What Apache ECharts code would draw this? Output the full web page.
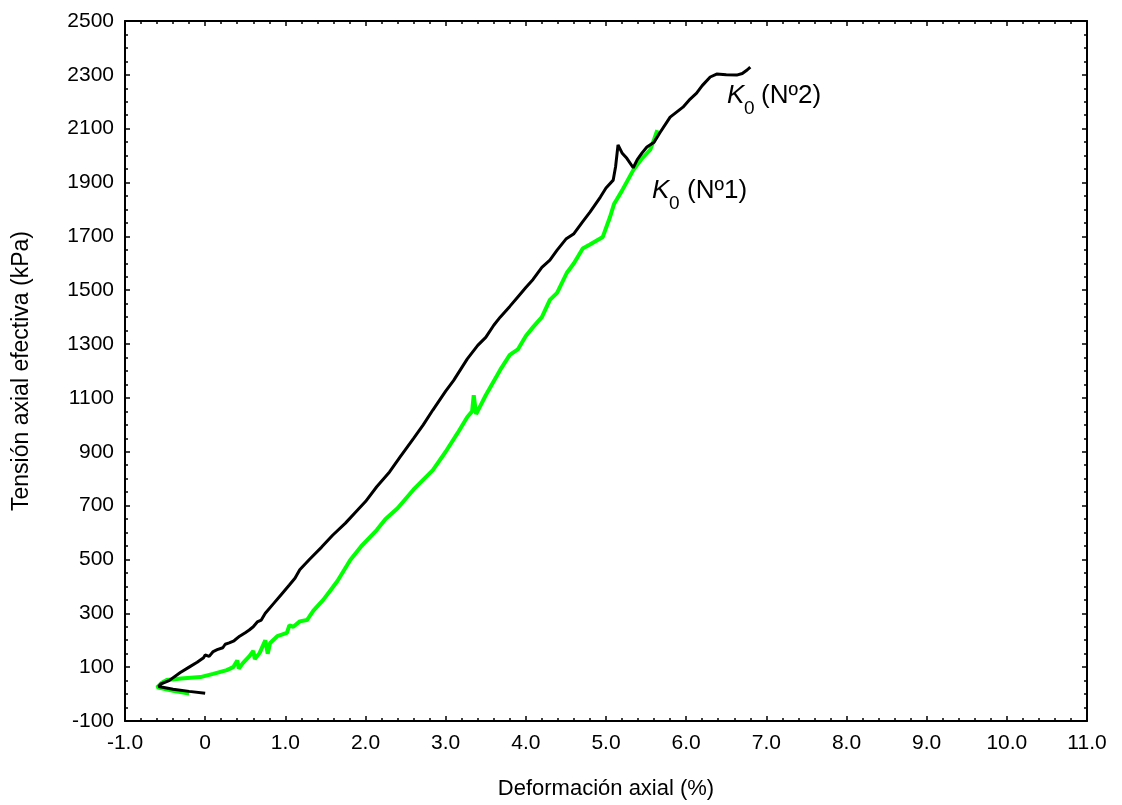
<!DOCTYPE html>
<html>
<head>
<meta charset="utf-8">
<script src="https://cdn.jsdelivr.net/npm/echarts@6/dist/echarts.min.js"></script>
<style>
html,body{margin:0;padding:0;background:#fff;}
#chart{width:1122px;height:805px;}
</style>
</head>
<body>
<div id="chart"></div>
<script>
// Axis settings
const xTitle = 'Deformación axial (%)';
const yTitle = 'Tensión axial efectiva (kPa)';

// K0 (Nº2) – black curve [strain %, stress kPa]
const k0n2 = [
  [0.0, 3], [-0.2, 10], [-0.4, 18], [-0.58, 28], [-0.55, 38], [-0.45, 50], [-0.31, 80],
  [-0.2, 100], [-0.1, 118], [-0.02, 135], [0.0, 145], [0.05, 140], [0.1, 158], [0.15, 165],
  [0.22, 172], [0.25, 185], [0.3, 190], [0.36, 198], [0.43, 215], [0.5, 228], [0.55, 238],
  [0.6, 250], [0.65, 268], [0.7, 275], [0.75, 300], [0.85, 335], [0.95, 370], [1.05, 405],
  [1.12, 430], [1.18, 462], [1.3, 500], [1.45, 545], [1.59, 590], [1.75, 635], [1.89, 680],
  [2.0, 715], [2.14, 770], [2.3, 825], [2.43, 880], [2.6, 950], [2.72, 1000], [2.84, 1055],
  [3.0, 1125], [3.1, 1165], [3.27, 1245], [3.4, 1295], [3.5, 1325], [3.6, 1370], [3.68, 1400],
  [3.8, 1440], [3.9, 1475], [4.0, 1510], [4.09, 1540], [4.2, 1585], [4.3, 1612],
  [4.39, 1649], [4.5, 1690], [4.6, 1710], [4.71, 1755], [4.8, 1790], [4.93, 1846], [5.0, 1880],
  [5.09, 1909], [5.12, 1960], [5.15, 2040], [5.2, 2010], [5.26, 1990], [5.34, 1955], [5.39, 1985],
  [5.45, 2010], [5.51, 2032], [5.6, 2050], [5.67, 2084], [5.8, 2143], [5.96, 2180], [6.05, 2210],
  [6.13, 2232], [6.2, 2260], [6.3, 2292], [6.38, 2303], [6.5, 2300], [6.63, 2299], [6.7, 2305],
  [6.76, 2318], [6.8, 2329]
];

// K0 (Nº1) – green curve [strain %, stress kPa]
const k0n1 = [
  [-0.2, 2], [-0.4, 12], [-0.6, 25], [-0.55, 40], [-0.48, 52], [-0.3, 58], [-0.06, 63],
  [0.1, 75], [0.27, 89], [0.35, 100], [0.4, 125], [0.42, 95], [0.47, 115], [0.55, 140],
  [0.6, 160], [0.62, 130], [0.68, 153], [0.75, 200], [0.78, 150], [0.81, 190], [0.9, 215],
  [1.02, 227], [1.05, 255], [1.1, 250], [1.18, 270], [1.27, 275], [1.35, 310], [1.47, 349],
  [1.55, 380], [1.65, 420], [1.81, 498], [1.95, 550], [2.14, 609], [2.25, 650], [2.4, 690],
  [2.6, 760], [2.84, 832], [3.0, 900], [3.15, 970], [3.27, 1029], [3.33, 1050], [3.35, 1110],
  [3.38, 1040], [3.5, 1110], [3.68, 1204], [3.8, 1260], [3.9, 1280], [4.0, 1330], [4.09, 1363],
  [4.2, 1400], [4.3, 1464], [4.39, 1490], [4.51, 1564], [4.6, 1600], [4.71, 1655], [4.8, 1670],
  [4.96, 1698], [5.05, 1772], [5.1, 1820], [5.14, 1840], [5.2, 1870], [5.34, 1946], [5.45, 1990],
  [5.55, 2021], [5.6, 2060], [5.64, 2095]
];

const FONT = '"Liberation Sans", Arial, sans-serif';
const chart = echarts.init(document.getElementById('chart'), null, {renderer: 'canvas'});

const axisLine = {show: true, onZero: false, lineStyle: {color: '#000', width: 2}};
function xAx(pos, labels) {
  return {
    type: 'value', position: pos, min: -1, max: 11, interval: 1,
    axisLine: axisLine,
    axisTick: {show: true, inside: true, length: 5, lineStyle: {color: '#000', width: 1.5}},
    minorTick: {show: true, splitNumber: 5, length: 3, lineStyle: {color: '#000', width: 1.5}},
    splitLine: {show: false},
    axisLabel: {show: labels, margin: 12, color: '#000', fontSize: 21, fontFamily: FONT,
      formatter: v => (v === 0 ? '0' : v.toFixed(1))},
    name: labels ? xTitle : '', nameLocation: 'middle', nameGap: 57,
    nameTextStyle: {color: '#000', fontSize: 22, fontFamily: FONT}
  };
}
function yAx(pos, labels) {
  return {
    type: 'value', position: pos, min: -100, max: 2500, interval: 200,
    axisLine: axisLine,
    axisTick: {show: true, inside: true, length: 5, lineStyle: {color: '#000', width: 1.5}},
    minorTick: {show: true, splitNumber: 4, length: 3, lineStyle: {color: '#000', width: 1.5}},
    splitLine: {show: false},
    axisLabel: {show: labels, margin: 11, color: '#000', fontSize: 21, fontFamily: FONT,
      formatter: v => String(v)},
    name: labels ? yTitle : '', nameLocation: 'middle', nameGap: 92, nameRotate: 90,
    nameTextStyle: {color: '#000', fontSize: 23, fontFamily: FONT}
  };
}

const option = {
  backgroundColor: '#fff',
  animation: false,
  grid: {left: 125, top: 21, right: 35, bottom: 84, containLabel: false},
  xAxis: [xAx('bottom', true), xAx('top', false)],
  yAxis: [yAx('left', true), yAx('right', false)],
  series: [
    {type: 'line', name: 'K0 (Nº1)', data: k0n1, showSymbol: false, symbol: 'none',
     lineStyle: {color: '#00ff00', width: 4}, z: 2},
    {type: 'line', name: 'K0 (Nº2)', data: k0n2, showSymbol: false, symbol: 'none',
     lineStyle: {color: '#000', width: 3}, z: 3}
  ],
  graphic: [
    {type: 'text', left: 727, top: 83, style: {text: 'K', font: 'italic 26px ' + FONT, fill: '#000'}},
    {type: 'text', left: 744, top: 99, style: {text: '0', font: '19px ' + FONT, fill: '#000'}},
    {type: 'text', left: 761, top: 83, style: {text: '(Nº2)', font: '26px ' + FONT, fill: '#000'}},
    {type: 'text', left: 652, top: 178, style: {text: 'K', font: 'italic 26px ' + FONT, fill: '#000'}},
    {type: 'text', left: 669, top: 194, style: {text: '0', font: '19px ' + FONT, fill: '#000'}},
    {type: 'text', left: 687, top: 178, style: {text: '(Nº1)', font: '26px ' + FONT, fill: '#000'}}
  ]
};
chart.setOption(option);
</script>
</body>
</html>
